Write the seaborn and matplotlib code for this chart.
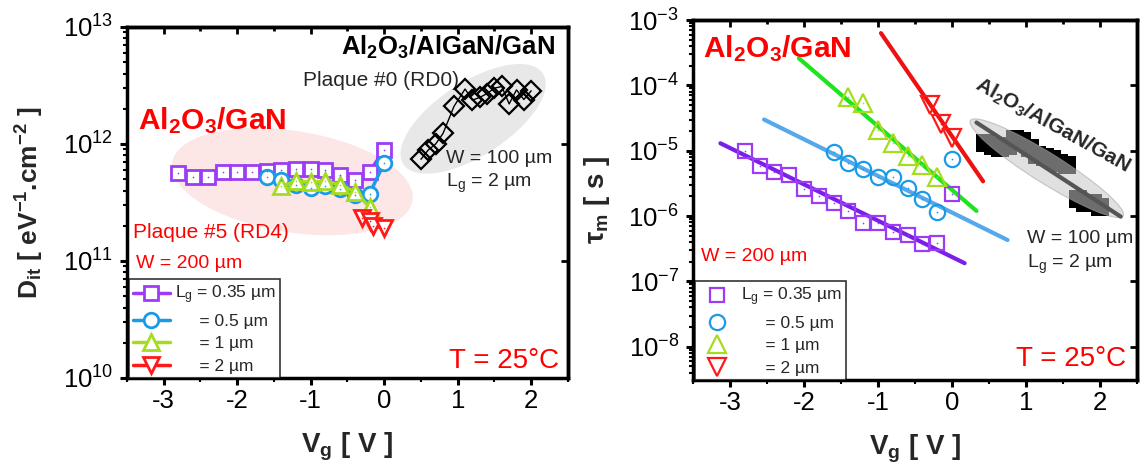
import numpy as np
import pandas as pd
import matplotlib
matplotlib.use("Agg")
import matplotlib.pyplot as plt
import seaborn as sns
from matplotlib.patches import Ellipse
from matplotlib.ticker import MultipleLocator, LogLocator, NullFormatter
from matplotlib.transforms import ScaledTranslation

# ── Data ─────────────────────────────────────────────────────
# left panel : Dit vs Vg, Al2O3/GaN (plaque #5) for several Lg
vg_035  = [-2.8, -2.6, -2.4, -2.2, -2.0, -1.8, -1.6, -1.4, -1.2, -1.0, -0.8, -0.6, -0.4, -0.2, 0.0]
dit_035 = [5.6e11, 5.2e11, 5.2e11, 5.75e11, 5.75e11, 5.75e11, 5.9e11, 6.0e11,
           6.1e11, 6.1e11, 6.0e11, 5.45e11, 4.95e11, 5.8e11, 8.9e11]
vg_05   = [-1.6, -1.4, -1.2, -1.0, -0.8, -0.6, -0.4, -0.2, 0.0]
dit_05  = [5.2e11, 4.9e11, 4.5e11, 4.2e11, 4.35e11, 4.1e11, 3.7e11, 3.75e11, 6.9e11]
vg_1    = [-1.4, -1.2, -1.0, -0.8, -0.6, -0.4, -0.2]
dit_1   = [4.35e11, 4.8e11, 4.7e11, 4.8e11, 4.5e11, 3.9e11, 2.9e11]
vg_2    = [-0.3, -0.2, -0.15, 0.0]
dit_2   = [2.35e11, 2.2e11, 2.0e11, 1.9e11]

# Al2O3/AlGaN/GaN (plaque #0), Lg = 2 um
vg_rd0  = [0.5, 0.6, 0.7, 0.8, 0.95, 1.1, 1.2, 1.3, 1.4, 1.5, 1.6, 1.7, 1.8, 1.9, 2.0]
dit_rd0 = [7.4e11, 8.9e11, 1.0e12, 1.23e12, 2.1e12, 2.95e12, 2.37e12, 2.5e12,
           2.7e12, 3.0e12, 3.1e12, 2.2e12, 2.9e12, 2.4e12, 2.85e12]

# right panel : tau_m vs Vg
tau_035 = [1.0e-5, 5.9e-6, 4.7e-6, 4.3e-6, 2.6e-6, 2.05e-6, 1.56e-6, 1.2e-6,
           7.7e-7, 7.9e-7, 5.7e-7, 5.1e-7, 3.8e-7, 3.9e-7, 2.15e-6]
tau_05  = [9.7e-6, 6.6e-6, 5.2e-6, 3.9e-6, 4.0e-6, 2.7e-6, 1.8e-6, 1.17e-6, 7.4e-6]
tau_1   = [6.7e-5, 5.3e-5, 2.1e-5, 1.3e-5, 8.3e-6, 6.1e-6, 4.0e-6]
vg_2r   = [-0.3, -0.15, 0.0]
tau_2   = [5.0e-5, 2.6e-5, 1.55e-5]

vg_algan  = [0.45, 0.55, 0.65, 0.75, 0.85, 0.95, 1.05, 1.15, 1.25, 1.35, 1.45, 1.55, 1.7, 1.8, 1.9, 2.0]
tau_algan = [1.3e-5, 1.2e-5, 1.1e-5, 1.2e-5, 1.5e-5, 1.4e-5, 1.1e-5, 8.5e-6,
             8.0e-6, 7.5e-6, 6.5e-6, 6.0e-6, 1.8e-6, 1.6e-6, 1.6e-6, 1.4e-6]

# linear fits (end points of the drawn lines)
fit_v   = {"035": [-3.13, 0.17], "05": [-2.54, 0.75], "1": [-2.07, 0.33],
           "2": [-0.96, 0.42], "algan": [0.33, 2.28]}
fit_tau = {"035": [1.3e-5, 1.9e-7], "05": [3.0e-5, 4.3e-7], "1": [2.6e-4, 1.2e-6],
           "2": [6.3e-4, 3.4e-6], "algan": [2.7e-5, 9.8e-7]}

labels = ["L$_g$ = 0.35 µm", "     = 0.5 µm", "     = 1 µm", "     = 2 µm"]

# ── Style ────────────────────────────────────────────────────
C_PUR, C_BLU, C_GRN, C_RED = "#9d3cf5", "#1a9be8", "#a6dc1e", "#ff1a1a"
F_PUR, F_BLU, F_GRN, F_RED = "#7b1fe8", "#56a8ec", "#1ee41e", "#ee1111"

sns.set_theme(style="ticks")
plt.rcParams.update({
    "font.family": ["Liberation Sans", "DejaVu Sans"],
    "mathtext.fontset": "custom",
    "mathtext.default": "regular",
    "mathtext.rm": "Liberation Sans",
    "mathtext.it": "Liberation Sans:italic",
    "mathtext.bf": "Liberation Sans:bold",
    "axes.linewidth": 2.5,
    "axes.edgecolor": "black",
    "xtick.color": "black",
    "ytick.color": "black",
    "xtick.labelsize": 18.5,
    "ytick.labelsize": 18.5,
})

fig = plt.figure(figsize=(11.4, 4.71), dpi=100)
ax1 = fig.add_axes([0.1114, 0.1975, 0.3868, 0.7452])
ax2 = fig.add_axes([0.6079, 0.1932, 0.3895, 0.7643])


def blob(ax, xc, yc, w, h, angle, **kw):
    # ellipse centred on a data point, size given in inches
    tr = ax.figure.dpi_scale_trans + ScaledTranslation(xc, yc, ax.transData)
    ax.add_patch(Ellipse((0, 0), w, h, angle=angle, transform=tr, **kw))


def frame(ax, ylo, yhi):
    ax.set_xlim(-3.5, 2.5)
    ax.set_yscale("log")
    ax.set_ylim(ylo, yhi)
    ax.set_xticks([-3, -2, -1, 0, 1, 2])
    ax.set_xticklabels(["-3", "-2", "-1", "0", "1", "2"])
    ax.xaxis.set_minor_locator(MultipleLocator(0.5))
    ax.yaxis.set_major_locator(LogLocator(base=10, numticks=20))
    ax.yaxis.set_minor_locator(LogLocator(base=10, subs=np.arange(2, 10), numticks=20))
    ax.yaxis.set_minor_formatter(NullFormatter())
    ax.tick_params(which="major", direction="out", length=5, width=2.2, pad=3)
    ax.tick_params(axis="y", which="major", pad=5)
    ax.tick_params(which="minor", direction="out", length=3, width=1.5)
    ax.set_xlabel("V$_\\mathbf{g}$ [ V ]", fontsize=20, fontweight="bold", labelpad=13)
    # top / right ticks point inward
    top = ax.secondary_xaxis("top")
    top.set_xticks([-3, -2, -1, 0, 1, 2])
    top.xaxis.set_minor_locator(MultipleLocator(0.5))
    top.tick_params(which="both", direction="in", labeltop=False, width=2)
    top.tick_params(which="major", length=5)
    top.tick_params(which="minor", length=3)
    right = ax.secondary_yaxis("right")
    right.tick_params(which="both", direction="in", labelright=False, width=2)
    right.tick_params(which="major", length=5)
    right.tick_params(which="minor", length=0)
    for sec in (top, right):
        for sp in sec.spines.values():
            sp.set_linewidth(2.5)


def dots(ax, x, y, color):
    sns.scatterplot(x=x, y=y, ax=ax, marker=".", s=6, color=color,
                    linewidth=0, zorder=6, legend=False)


def boxed_legend(ax, x0):
    leg = ax.legend(loc="lower left", bbox_to_anchor=(x0, 0.0), fontsize=12.5,
                    frameon=True, fancybox=False, edgecolor="black", borderaxespad=0,
                    handlelength=2.1, labelspacing=0.42, borderpad=0.25, handletextpad=0.3)
    leg.get_frame().set_linewidth(1.2)
    return leg


# ── Left panel : Dit ─────────────────────────────────────────
frame(ax1, 1e10, 1e13)
blob(ax1, -1.25, 4.77e11, 2.42, 1.0, -9, color="#fde6e6", zorder=0)
blob(ax1, 1.21, 1.64e12, 1.65, 0.72, 33, color="#e8e8e8", zorder=0)

left_sets = [(vg_035, dit_035, "s", C_PUR, 9.5), (vg_05, dit_05, "o", C_BLU, 10.5),
             (vg_1, dit_1, "^", C_GRN, 12), (vg_2, dit_2, "v", C_RED, 12)]
for (vx, dy, mk, col, ms), lab in zip(left_sets, labels):
    d = pd.DataFrame({"Vg": vx, "Dit": dy})
    sns.lineplot(data=d, x="Vg", y="Dit", ax=ax1, color=col, lw=2.5, marker=mk,
                 ms=ms, mfc="white", mec=col, mew=2, errorbar=None, label=lab, zorder=4)
    dots(ax1, vx, dy, col)

rd0 = pd.DataFrame({"Vg": vg_rd0, "Dit": dit_rd0})
sns.lineplot(data=rd0, x="Vg", y="Dit", ax=ax1, color="black", lw=1, marker="D",
             ms=10, mfc="none", mec="black", mew=1.6, errorbar=None, zorder=4)

ax1.set_ylabel("D$_\\mathbf{it}$ [ eV$^\\mathbf{-1}$.cm$^\\mathbf{-2}$ ]",
               fontsize=19, fontweight="bold", labelpad=12)
boxed_legend(ax1, 0.004)

kw = dict(transform=ax1.transAxes)
ax1.text(0.97, 0.942, "Al$_\\mathbf{2}$O$_\\mathbf{3}$/AlGaN/GaN", ha="right", va="center",
         fontsize=18.5, fontweight="bold", color="black", **kw)
ax1.text(0.40, 0.848, "Plaque #0 (RD0)", ha="left", va="center", fontsize=15, **kw)
ax1.text(0.025, 0.734, "Al$_\\mathbf{2}$O$_\\mathbf{3}$/GaN", ha="left", va="center",
         fontsize=21.5, fontweight="bold", color="red", **kw)
ax1.text(0.014, 0.414, "Plaque #5 (RD4)", ha="left", va="center", fontsize=15, color="red", **kw)
ax1.text(0.02, 0.325, "W = 200 µm", ha="left", va="center", fontsize=14, color="red", **kw)
ax1.text(0.723, 0.626, "W = 100 µm", ha="left", va="center", fontsize=14, **kw)
ax1.text(0.723, 0.553, "L$_g$ = 2 µm", ha="left", va="center", fontsize=14, **kw)
ax1.text(0.979, 0.047, "T = 25°C", ha="right", va="center", fontsize=20, color="red", **kw)

# ── Right panel : tau_m ──────────────────────────────────────
frame(ax2, 3.1e-9, 1e-3)

right_sets = [(vg_035, tau_035, "s", C_PUR, 10, "035", F_PUR),
              (vg_05, tau_05, "o", C_BLU, 11, "05", F_BLU),
              (vg_1, tau_1, "^", C_GRN, 13, "1", F_GRN),
              (vg_2r, tau_2, "v", C_RED, 13, "2", F_RED)]
for (vx, ty, mk, col, ms, key, fcol), lab in zip(right_sets, labels):
    fit = pd.DataFrame({"Vg": fit_v[key], "tau": fit_tau[key]})
    sns.lineplot(data=fit, x="Vg", y="tau", ax=ax2, color=fcol, lw=3, errorbar=None, zorder=3)
    d = pd.DataFrame({"Vg": vx, "tau": ty})
    sns.lineplot(data=d, x="Vg", y="tau", ax=ax2, color=col, lw=0, marker=mk, ms=ms,
                 mfc="none", mec=col, mew=1.6, errorbar=None, label=lab, zorder=4)
    dots(ax2, vx, ty, col)

alg = pd.DataFrame({"Vg": vg_algan, "tau": tau_algan})
sns.scatterplot(data=alg, x="Vg", y="tau", ax=ax2, marker="s", s=150, color="black",
                linewidth=0, zorder=3, legend=False)
blob(ax2, 1.28, 5.4e-6, 1.8, 0.3, -32, facecolor="#c8c8c8", edgecolor="#a0a0a0",
     lw=0.8, alpha=0.55, zorder=4)
fa = pd.DataFrame({"Vg": fit_v["algan"], "tau": fit_tau["algan"]})
sns.lineplot(data=fa, x="Vg", y="tau", ax=ax2, color="#555555", lw=3, errorbar=None, zorder=5)

ax2.set_ylabel("τ$_\\mathbf{m}$ [ s ]", fontsize=20, fontweight="bold", labelpad=12)
boxed_legend(ax2, 0.004)

kw = dict(transform=ax2.transAxes)
ax2.text(0.022, 0.921, "Al$_\\mathbf{2}$O$_\\mathbf{3}$/GaN", ha="left", va="center",
         fontsize=21.5, fontweight="bold", color="red", **kw)
ax2.text(0.81, 0.708, "Al$_\\mathbf{2}$O$_\\mathbf{3}$/AlGaN/GaN", ha="center", va="center",
         rotation=-29, rotation_mode="anchor", fontsize=15, fontweight="bold", **kw)
ax2.text(0.018, 0.343, "W = 200 µm", ha="left", va="center", fontsize=14, color="red", **kw)
ax2.text(0.752, 0.393, "W = 100 µm", ha="left", va="center", fontsize=14, **kw)
ax2.text(0.752, 0.321, "L$_g$ = 2 µm", ha="left", va="center", fontsize=14, **kw)
ax2.text(0.975, 0.057, "T = 25°C", ha="right", va="center", fontsize=20, color="red", **kw)

fig.savefig("out.png", dpi=100)
plt.close(fig)
